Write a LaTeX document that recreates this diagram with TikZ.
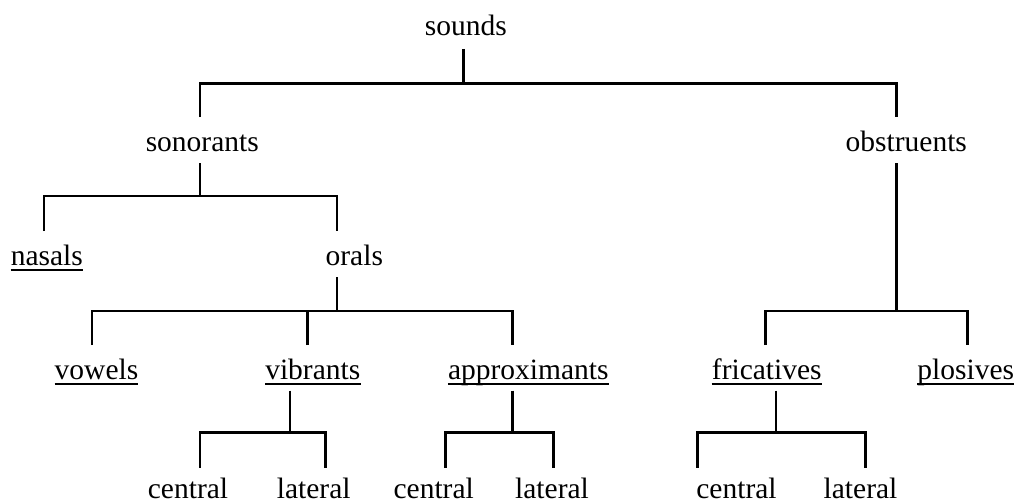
\documentclass[tikz,border=0pt]{standalone}
\usepackage{fontspec}
\setmainfont{Liberation Serif}
\begin{document}
\begin{tikzpicture}[x=1pt,y=1pt,
  label/.style={inner sep=0pt,anchor=base,text depth=0pt,font=\fontsize{29.5}{34}\selectfont},
  branch/.style={line width=2.7pt,line join=miter},
  uline/.style={line width=1.7pt}]
\useasboundingbox (0,0) rectangle (1018,-503);

% category labels (placed on their baselines)
\node[label] (sounds)       at (465.9,-36)  {sounds};
\node[label] (sonorants)    at (202.3,-151) {sonorants};
\node[label] (obstruents)   at (906.3,-151) {obstruents};
\node[label] (nasals)       at (46.8,-265)  {nasals};
\node[label] (orals)        at (354.3,-265) {orals};
\node[label] (vowels)       at (96.5,-379)  {vowels};
\node[label] (vibrants)     at (312.8,-379) {vibrants};
\node[label] (approximants) at (528.3,-379) {approximants};
\node[label] (fricatives)   at (766.8,-379) {fricatives};
\node[label] (plosives)     at (965.8,-379) {plosives};
\node[label] (vib-c)        at (188,-498)   {central};
\node[label] (vib-l)        at (313.7,-498) {lateral};
\node[label] (app-c)        at (433.7,-498) {central};
\node[label] (app-l)        at (552,-498)   {lateral};
\node[label] (fri-c)        at (736.5,-498) {central};
\node[label] (fri-l)        at (860.5,-498) {lateral};

% underlined terminal categories
\foreach \n in {nasals,vowels,vibrants,approximants,fricatives,plosives}
  \draw[uline] ([yshift=-5.3pt]\n.base west) -- ([yshift=-5.3pt]\n.base east);

% stems below parents, tops above children, and fork junctions
\coordinate (sounds-stem)     at (463.7,-49);
\coordinate (sounds-fork)     at (463.7,-83.5);
\coordinate (sonorants-top)   at (200,-117);
\coordinate (obstruents-top)  at (896.3,-117);

\coordinate (sonorants-stem)  at (200,-163);
\coordinate (sonorants-fork)  at (200,-196);
\coordinate (nasals-top)      at (44,-231);
\coordinate (orals-top)       at (337,-231);

\coordinate (orals-stem)      at (337,-277);
\coordinate (orals-fork)      at (337,-311);
\coordinate (vowels-top)      at (92,-345);
\coordinate (vibrants-top)    at (307.7,-345);
\coordinate (approx-top)      at (512.3,-345);

\coordinate (obstruents-stem) at (896.3,-163.3);
\coordinate (obstruents-fork) at (896.3,-311);
\coordinate (fricatives-top)  at (765.7,-345);
\coordinate (plosives-top)    at (967.7,-345);

\coordinate (vibrants-stem)   at (290,-390.5);
\coordinate (vibrants-fork)   at (290,-432.7);
\coordinate (vib-c-top)       at (200,-467.7);
\coordinate (vib-l-top)       at (325.7,-467.7);

\coordinate (approx-stem)     at (512.3,-390.5);
\coordinate (approx-fork)     at (512.3,-432.7);
\coordinate (app-c-top)       at (445.7,-467.7);
\coordinate (app-l-top)       at (553.3,-467.7);

\coordinate (fricatives-stem) at (776,-390.5);
\coordinate (fricatives-fork) at (776,-432.7);
\coordinate (fri-c-top)       at (697.7,-467.7);
\coordinate (fri-l-top)       at (865.7,-467.7);

% tree branches
\draw[branch] (sounds-stem) -- (sounds-fork);
\draw[branch] (sonorants-top) |- (sounds-fork) -| (obstruents-top);

\draw[branch] (sonorants-stem) -- (sonorants-fork);
\draw[branch] (nasals-top) |- (sonorants-fork) -| (orals-top);

\draw[branch] (orals-stem) -- (orals-fork);
\draw[branch] (vowels-top) |- (orals-fork) -| (approx-top);
\draw[branch] (vibrants-top) -- (vibrants-top |- orals-fork);

\draw[branch] (obstruents-stem) -- (obstruents-fork);
\draw[branch] (fricatives-top) |- (obstruents-fork) -| (plosives-top);

\draw[branch] (vibrants-stem) -- (vibrants-fork);
\draw[branch] (vib-c-top) |- (vibrants-fork) -| (vib-l-top);

\draw[branch] (approx-stem) -- (approx-fork);
\draw[branch] (app-c-top) |- (approx-fork) -| (app-l-top);

\draw[branch] (fricatives-stem) -- (fricatives-fork);
\draw[branch] (fri-c-top) |- (fricatives-fork) -| (fri-l-top);
\end{tikzpicture}
\end{document}
